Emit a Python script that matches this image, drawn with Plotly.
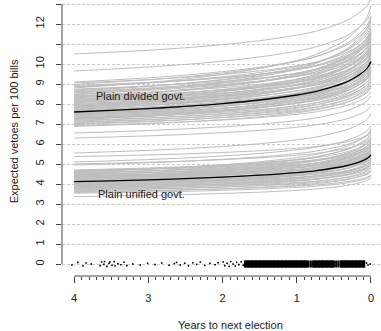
import plotly.graph_objects as go

# ---------------- data ----------------
years = [4, 3.5, 3, 2.5, 2, 1.5, 1, 0.75, 0.5, 0.35, 0.25, 0.15, 0.08, 0.04, 0]
# fraction of the rise (start -> end) reached at each year
rise_fraction = [0, 0.032, 0.067, 0.111, 0.167, 0.238, 0.337, 0.405, 0.508,
                 0.583, 0.655, 0.746, 0.825, 0.893, 1.0]

divided_median = [7.60, 7.68, 7.77, 7.88, 8.02, 8.20, 8.45, 8.62, 8.88,
                  9.07, 9.25, 9.48, 9.68, 9.85, 10.12]
unified_median = [4.12, 4.16, 4.21, 4.27, 4.34, 4.44, 4.57, 4.66, 4.80,
                  4.90, 4.99, 5.11, 5.22, 5.31, 5.45]

# simulated curves: value 4 years out, value at election
divided_start = [10.50, 9.65, 9.10, 9.05, 8.98, 8.92, 8.85, 8.80, 8.74, 8.70,
                 8.65, 8.60, 8.55, 8.50, 8.46, 8.42, 8.38, 8.33, 8.30, 8.26,
                 8.22, 8.18, 8.14, 8.10, 8.06, 8.02, 7.98, 7.94, 7.90, 7.86,
                 7.83, 7.80, 7.76, 7.73, 7.70, 7.66, 7.63, 7.60, 7.56, 7.53,
                 7.50, 7.46, 7.43, 7.40, 7.36, 7.33, 7.30, 7.26, 7.22, 7.18,
                 7.14, 7.10, 7.06, 7.02, 6.98, 6.92, 6.88, 6.55, 6.30, 8.88,
                 8.62, 8.35, 8.08, 7.88, 7.68, 7.48, 7.28, 7.24, 7.95, 8.20]
divided_end = [13.30, 12.60, 12.20, 11.60, 12.40, 11.30, 11.90, 12.90, 11.10, 11.70,
               12.10, 10.90, 11.50, 11.20, 12.30, 10.80, 11.40, 10.60, 11.80, 10.95,
               11.25, 10.40, 11.00, 10.70, 11.55, 10.30, 10.85, 10.50, 11.15, 10.20,
               10.65, 9.95, 10.45, 10.90, 10.10, 9.80, 10.35, 10.00, 9.60, 10.55,
               9.90, 9.50, 10.15, 9.70, 9.35, 10.00, 9.55, 9.20, 9.75, 9.10,
               9.40, 8.95, 9.25, 8.80, 9.05, 8.60, 8.90, 8.40, 7.90, 11.45,
               11.35, 11.65, 10.25, 10.75, 9.65, 10.30, 9.85, 9.60, 11.30, 10.90]

unified_start = [5.55, 5.37, 5.10, 5.00, 4.95, 4.70, 4.66, 4.62, 4.58, 4.55,
                 4.52, 4.48, 4.45, 4.42, 4.39, 4.36, 4.33, 4.30, 4.27, 4.24,
                 4.21, 4.18, 4.15, 4.12, 4.09, 4.06, 4.03, 4.00, 3.97, 3.94,
                 3.91, 3.88, 3.85, 3.82, 3.79, 3.76, 3.73, 3.70, 3.66, 3.62,
                 3.58, 3.54, 3.37, 4.60, 4.40, 4.20, 4.02, 3.86, 4.50, 4.28,
                 4.10, 3.95, 3.80, 4.68, 4.35]
unified_end = [7.50, 6.60, 6.90, 6.30, 6.65, 6.20, 5.90, 6.45, 5.70, 6.10,
               6.55, 5.85, 6.25, 5.55, 6.00, 5.75, 6.35, 5.50, 5.95, 5.65,
               6.05, 5.35, 5.80, 5.45, 5.60, 5.25, 5.90, 5.30, 5.55, 5.10,
               5.40, 5.00, 5.20, 4.85, 5.15, 4.70, 4.95, 4.60, 4.80, 4.45,
               4.65, 4.40, 4.30, 6.75, 5.40, 5.70, 4.95, 5.60, 5.60, 6.15,
               5.05, 5.75, 4.95, 6.00, 5.25]

# rug of observed veto timings (years to next election)
rug_sparse_x = [4.03, 3.95, 3.88, 3.84, 3.77, 3.65, 3.63, 3.60, 3.59, 3.56,
                3.53, 3.52, 3.49, 3.46, 3.45, 3.41, 3.37, 3.33, 3.29, 3.21,
                3.11, 3.01, 2.91, 2.82, 2.72, 2.65, 2.62, 2.57, 2.51, 2.46,
                2.40, 2.35, 2.30, 2.24, 2.17, 2.10, 2.06, 1.99, 1.97, 1.94,
                1.91, 1.89, 1.86, 1.83, 1.81, 1.78, 1.75, 1.72, 0.06, 0.04, 0.01]
rug_sparse_y = [-0.05, 0.08, -0.10, 0.05, 0.00, -0.08, 0.10, -0.02, 0.12, -0.12,
                0.04, 0.10, -0.06, 0.12, -0.10, 0.02, -0.04, 0.09, -0.08, 0.00,
                -0.05, 0.03, -0.03, 0.05, -0.06, 0.02, 0.08, -0.05, 0.04, -0.09,
                0.06, -0.02, 0.10, -0.07, 0.03, -0.04, 0.07, 0.10, -0.08, 0.04,
                -0.12, 0.12, 0.00, -0.10, 0.08, -0.03, 0.11, -0.06, 0.05, -0.05, 0.0]
rug_dense_x = [1.70, 1.69, 1.675, 1.66, 1.65, 1.64, 1.625, 1.61, 1.60, 1.59,
               1.575, 1.56, 1.55, 1.54, 1.525, 1.51, 1.50, 1.49, 1.475, 1.46,
               1.45, 1.44, 1.425, 1.41, 1.40, 1.39, 1.375, 1.36, 1.35, 1.34,
               1.325, 1.31, 1.30, 1.29, 1.275, 1.26, 1.25, 1.24, 1.225, 1.21,
               1.20, 1.19, 1.175, 1.16, 1.15, 1.14, 1.125, 1.11, 1.10, 1.09,
               1.075, 1.06, 1.05, 1.04, 1.025, 1.01, 1.00, 0.99, 0.975, 0.96,
               0.95, 0.94, 0.925, 0.91, 0.90, 0.89, 0.875, 0.86, 0.84, 0.81,
               0.78, 0.775, 0.76, 0.75, 0.74, 0.725, 0.71, 0.70, 0.69, 0.675,
               0.66, 0.65, 0.64, 0.625, 0.61, 0.60, 0.59, 0.575, 0.56, 0.55,
               0.54, 0.525, 0.51, 0.50, 0.47, 0.44, 0.41, 0.40, 0.39, 0.375,
               0.36, 0.35, 0.34, 0.325, 0.31, 0.30, 0.29, 0.275, 0.26, 0.25,
               0.24, 0.225, 0.21, 0.20, 0.19, 0.175, 0.16, 0.15, 0.14, 0.125,
               0.11, 0.10, 0.09]

x_ticks = [0, 1, 2, 3, 4]
y_ticks = list(range(14))
y_ticktext = ["0", "1", "2", "3", "4", "5", "6", "7", "8", "9", "10", "", "12", ""]

label_divided = "Plain divided govt."
label_unified = "Plain unified govt."
x_title = "Years to next election"
y_title = "Expected vetoes per 100 bills"

# ---------------- figure ----------------
GREY = "#bebebe"
AXIS = "#444444"
fig = go.Figure()


def curve(start, end):
    return [start + (end - start) * f for f in rise_fraction]


for s, e in zip(divided_start, divided_end):
    fig.add_trace(go.Scatter(x=years, y=curve(s, e), mode="lines",
                             line=dict(color=GREY, width=1, shape="spline"),
                             hoverinfo="skip"))
for s, e in zip(unified_start, unified_end):
    fig.add_trace(go.Scatter(x=years, y=curve(s, e), mode="lines",
                             line=dict(color=GREY, width=1, shape="spline"),
                             hoverinfo="skip"))

fig.add_trace(go.Scatter(x=years, y=divided_median, mode="lines",
                         line=dict(color="black", width=1.3, shape="spline")))
fig.add_trace(go.Scatter(x=years, y=unified_median, mode="lines",
                         line=dict(color="black", width=1.3, shape="spline")))

fig.add_trace(go.Scatter(x=rug_sparse_x, y=rug_sparse_y, mode="markers",
                         marker=dict(symbol="square", size=1.6, color="black",
                                     line=dict(width=0))))
fig.add_trace(go.Scatter(x=rug_dense_x, y=[0] * len(rug_dense_x), mode="markers",
                         marker=dict(symbol="line-ns", size=5,
                                     line=dict(width=2, color="black"))))

minor_vals = [round(i * 0.1, 1) for i in range(1, 40) if i % 10]

fig.update_layout(
    width=381, height=331,
    margin=dict(l=62, r=0, t=0, b=55),
    plot_bgcolor="white", paper_bgcolor="white",
    showlegend=False,
    font=dict(family="Liberation Sans, Arial, sans-serif", size=11, color="#222222"),
)
fig.update_xaxes(
    range=[4.164, -0.135], tickmode="array", tickvals=x_ticks,
    ticks="outside", ticklen=6, tickcolor=AXIS, tickwidth=1,
    showgrid=False, zeroline=False, showline=False,
    ticklabelstandoff=6,
    minor=dict(tickmode="array", tickvals=minor_vals, ticks="outside",
               ticklen=3, tickcolor=AXIS, tickwidth=1, showgrid=False),
)
fig.update_yaxes(
    range=[-0.6, 13.2], tickmode="array", tickvals=y_ticks, ticktext=y_ticktext,
    ticks="outside", ticklen=5, tickcolor=AXIS, tickwidth=1, tickangle=-90,
    showgrid=True, gridcolor="#cccccc", gridwidth=1, griddash="3px,2px",
    zeroline=False, showline=False, ticklabelstandoff=8,
)

fig.add_shape(type="line", xref="x", yref="paper", x0=4, x1=0, y0=0, y1=0,
              line=dict(color=AXIS, width=1))
fig.add_shape(type="line", xref="paper", yref="y", x0=0, x1=0, y0=0, y1=13,
              line=dict(color=AXIS, width=1))

fig.add_annotation(x=3.73, y=8.4, xref="x", yref="y", text=label_divided,
                   showarrow=False, xanchor="left", yanchor="middle",
                   font=dict(size=11, color="#222222"))
fig.add_annotation(x=3.71, y=3.5, xref="x", yref="y", text=label_unified,
                   showarrow=False, xanchor="left", yanchor="middle",
                   font=dict(size=11, color="#222222"))
fig.add_annotation(x=0.527, y=-0.178, xref="paper", yref="paper", text=x_title,
                   showarrow=False, xanchor="center", yanchor="middle",
                   font=dict(size=11, color="#222222"))
fig.add_annotation(x=-0.15, y=0.525, xref="paper", yref="paper", text=y_title,
                   showarrow=False, xanchor="center", yanchor="middle",
                   textangle=-90, font=dict(size=11, color="#222222"))

fig.write_html("out.html",
               config={"displayModeBar": False},
               post_script="document.body.style.margin='0';"
                           "document.body.style.padding='0';")
